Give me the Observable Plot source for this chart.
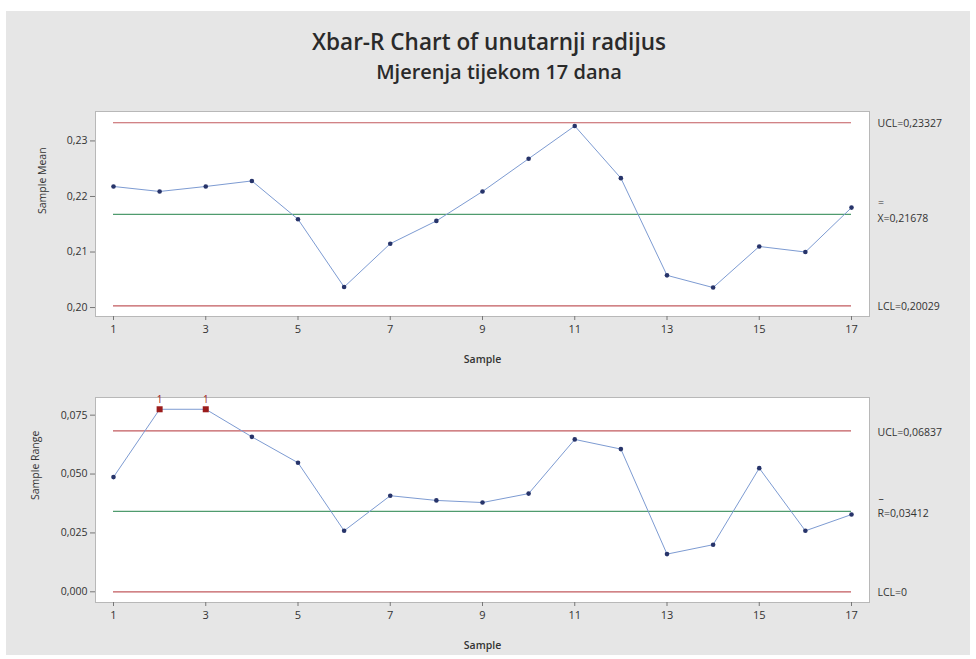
<!DOCTYPE html>
<html>
<head>
<meta charset="utf-8">
<script src="https://cdn.jsdelivr.net/npm/d3@7"></script>
<script src="https://cdn.jsdelivr.net/npm/@observablehq/plot@0.6"></script>
<style>
  html, body { margin: 0; padding: 0; background: #ffffff; }
  #wrap { position: absolute; left: 6px; top: 11px; width: 964px; height: 644px; background: #e6e6e6; overflow: hidden; }
  .title { position: absolute; font-family: "Open Sans", "Noto Sans", sans-serif; color: #2a2a2a; white-space: nowrap; transform: translateX(-50%); line-height: 1; font-weight: 600; }
  #t1 { left: 483px; top: 20px; font-size: 22.5px; }
  #t2 { left: 493px; top: 51px; font-size: 20px; }
  #p1 { position: absolute; left: 0; top: 89px; }
  #p2 { position: absolute; left: 0; top: 374px; }
</style>
</head>
<body>
<div id="wrap">
  <div class="title" id="t1">Xbar-R Chart of unutarnji radijus</div>
  <div class="title" id="t2">Mjerenja tijekom 17 dana</div>
  <div id="p1"></div>
  <div id="p2"></div>
</div>
<script>
// ---- data ----
const samples = [1, 2, 3, 4, 5, 6, 7, 8, 9, 10, 11, 12, 13, 14, 15, 16, 17];
const sampleMeans = [0.2218, 0.2209, 0.2218, 0.2228, 0.2159, 0.2037, 0.2115, 0.2156, 0.2209, 0.2268, 0.2327, 0.2233, 0.2058, 0.2036, 0.2110, 0.2100, 0.2180];
const sampleRanges = [0.0487, 0.0775, 0.0775, 0.0658, 0.0548, 0.0259, 0.0408, 0.0388, 0.0379, 0.0417, 0.0647, 0.0606, 0.0160, 0.0200, 0.0525, 0.0259, 0.0328];
const xbarLimits = { ucl: 0.23327, cl: 0.21678, lcl: 0.20029 };
const rLimits = { ucl: 0.06837, cl: 0.03412, lcl: 0 };
const xbarLabels = ["UCL=0,23327", "X=0,21678", "LCL=0,20029"];
const rLabels = ["UCL=0,06837", "R=0,03412", "LCL=0"];
const xTicks = [1, 3, 5, 7, 9, 11, 13, 15, 17];
const meanTicks = [0.20, 0.21, 0.22, 0.23];
const rangeTicks = [0, 0.025, 0.05, 0.075];
const axisTitleX = "Sample";
const axisTitleMean = "Sample Mean";
const axisTitleRange = "Sample Range";

// ---- styles ----
const RED = "#c25a5e";
const GREEN = "#4f9b6e";
const LINE = "#7d9bd2";
const DOT = "#27346a";
const FLAG = "#9b1c1c";
const FONT = "'Open Sans', 'Noto Sans', sans-serif";

function chart({values, limits, labels, ticks, digits, yDomain, ytitle, ytitleDx, marginTop, marginBottom, labelDy, barText, barDy, flag}) {
  const data = samples.map((s, i) => ({s, v: values[i]}));
  const flagged = flag ? data.filter(d => d.v > limits.ucl) : [];
  const fmt = d => d.toFixed(digits).replace(".", ",");
  const limitVals = [limits.ucl, limits.cl, limits.lcl];
  const labelMarks = limitVals.map((y, i) =>
    Plot.text([y], {x: () => 17, y: d => d, text: () => labels[i], dx: 26, dy: labelDy[i], textAnchor: "start", fontSize: 10.5, fill: "#333"})
  );
  return Plot.plot({
    width: 964,
    height: marginTop + 205 + marginBottom,
    marginLeft: 89,
    marginRight: 101,
    marginTop,
    marginBottom,
    style: {background: "transparent", fontFamily: FONT, fontSize: "11px", color: "#333"},
    x: {domain: [1, 17], inset: 18},
    y: {domain: yDomain},
    marks: [
      Plot.frame({fill: "white", stroke: "#b8b8b8"}),
      Plot.axisX({ticks: xTicks, tickSize: 4, tickPadding: 5, label: null, fontSize: 11, stroke: "#777"}),
      Plot.axisY({ticks, tickFormat: fmt, tickSize: 5, tickPadding: 3, label: null, fontSize: 10.5, stroke: "#777"}),
      Plot.text([axisTitleX], {frameAnchor: "bottom", dy: 46, fontSize: 10.5, fontWeight: 600, fill: "#333"}),
      Plot.text([ytitle], {frameAnchor: "left", dx: ytitleDx, rotate: -90, fontSize: 10.5, fill: "#333"}),
      Plot.ruleY([limits.ucl, limits.lcl], {x1: 1, x2: 17, stroke: RED, strokeWidth: 1.2}),
      Plot.ruleY([limits.cl], {x1: 1, x2: 17, stroke: GREEN, strokeWidth: 1.2}),
      Plot.line(data, {x: "s", y: "v", stroke: LINE, strokeWidth: 1}),
      Plot.dot(data, {x: "s", y: "v", r: 2.3, fill: DOT, stroke: "none"}),
      Plot.dot(flagged, {x: "s", y: "v", r: 3.4, symbol: "square", fill: FLAG, stroke: "none"}),
      Plot.text(flagged, {x: "s", y: "v", text: () => "1", dy: -9, fill: FLAG, fontSize: 10}),
      ...labelMarks,
      Plot.text([limits.cl], {x: () => 17, y: d => d, text: () => barText, dx: 29.5, dy: barDy, textAnchor: "middle", fontSize: 10.5, fill: "#333"})
    ]
  });
}

document.getElementById("p1").append(chart({
  values: sampleMeans, limits: xbarLimits, labels: xbarLabels, ticks: meanTicks, digits: 2,
  yDomain: [0.19839, 0.2353], ytitle: axisTitleMean, ytitleDx: -53,
  marginTop: 11, marginBottom: 59, labelDy: [1, 4, 1], barText: "=", barDy: -12, flag: false
}));
document.getElementById("p2").append(chart({
  values: sampleRanges, limits: rLimits, labels: rLabels, ticks: rangeTicks, digits: 3,
  yDomain: [-0.00454, 0.0825], ytitle: axisTitleRange, ytitleDx: -60,
  marginTop: 12, marginBottom: 55, labelDy: [2, 2, 1], barText: "\u2013", barDy: -13, flag: true
}));
</script>
</body>
</html>
